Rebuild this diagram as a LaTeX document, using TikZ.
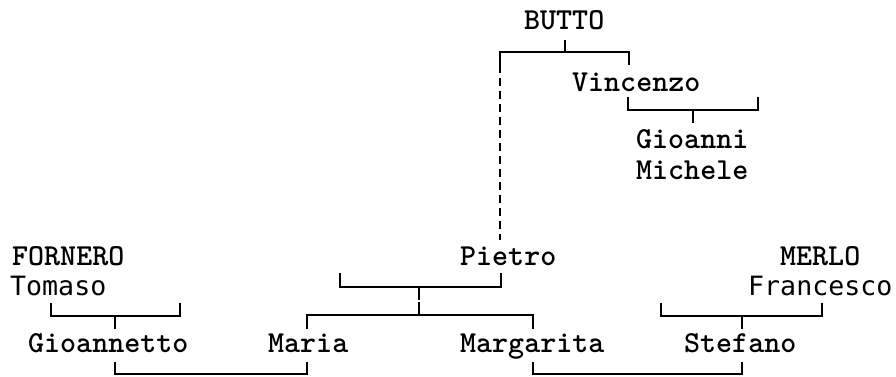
\documentclass[tikz,border=0pt]{standalone}
\usepackage{fontspec}
\newfontfamily\sansmono{DejaVu Sans Mono}
\begin{document}
\begin{tikzpicture}[x=1pt,y=-1pt,
  lbl/.style={anchor=base west, inner sep=0pt, font=\ttfamily\bfseries\fontsize{30.5}{31}\selectfont},
  lbs/.style={anchor=base west, inner sep=0pt, font=\sansmono\fontsize{26.6}{30}\selectfont},
  link/.style={line width=2pt, line cap=butt, line join=miter},
  dlink/.style={line width=2pt, dash pattern=on 8pt off 5pt}]
\useasboundingbox (0,0) rectangle (896,377);
% names
\node[lbl] (butto) at (524,30) {BUTTO};
\node[lbl] (vincenzo) at (572,92) {Vincenzo};
\node[lbl, align=left] (gioanni) at (636,179) {Gioanni\\Michele};
\node[lbl] (fornero) at (12,265) {FORNERO};
\node[lbs] (tomaso) at (10,295) {Tomaso};
\node[lbl] (pietro) at (460,265) {Pietro};
\node[lbl] (merlo) at (780,265) {MERLO};
\node[lbs] (francesco) at (748,295) {Francesco};
\node[lbl] (gioannetto) at (28,352) {Gioannetto};
\node[lbl] (maria) at (268,352) {Maria};
\node[lbl] (margarita) at (460,352) {Margarita};
\node[lbl] (stefano) at (684,352) {Stefano};
% connector points
\coordinate (b1) at (565,40); \coordinate (b2) at (565,52);
\coordinate (bl) at (500,65); \coordinate (blc) at (500,52);
\coordinate (brc) at (629,52); \coordinate (br) at (629,65);
\coordinate (pt) at (500,240);
\coordinate (v1) at (628,97); \coordinate (v2) at (628,110);
\coordinate (v3) at (758,110); \coordinate (v4) at (758,97);
\coordinate (vm) at (693,110); \coordinate (vc) at (693,123);
\coordinate (t1) at (51,303); \coordinate (t2) at (51,316);
\coordinate (t3) at (180,316); \coordinate (t4) at (180,303);
\coordinate (tm) at (115,316); \coordinate (tc) at (115,329);
\coordinate (g1) at (115,362); \coordinate (g2) at (115,374);
\coordinate (g3) at (307,374); \coordinate (g4) at (307,362);
\coordinate (p1) at (340,273); \coordinate (p2) at (340,287);
\coordinate (p3) at (501,287); \coordinate (p4) at (501,273);
\coordinate (pm) at (419,287); \coordinate (pma) at (419,300);
\coordinate (pmb) at (419,302); \coordinate (pmc) at (419,315);
\coordinate (c1) at (307,329); \coordinate (c2) at (307,315);
\coordinate (c3) at (533,315); \coordinate (c4) at (533,329);
\coordinate (m1) at (661,303); \coordinate (m2) at (661,316);
\coordinate (m3) at (822,316); \coordinate (m4) at (822,303);
\coordinate (mm) at (742,316); \coordinate (mc) at (742,329);
\coordinate (s1) at (533,362); \coordinate (s2) at (533,374);
\coordinate (s3) at (742,374); \coordinate (s4) at (742,362);
% connectors
\draw[link] (b1) -- (b2);
\draw[link] (bl) -- (blc) -- (brc) -- (br);
\draw[dlink] (bl) -- (pt);
\draw[link] (v1) -- (v2) -- (v3) -- (v4);
\draw[link] (vm) -- (vc);
\draw[link] (t1) -- (t2) -- (t3) -- (t4);
\draw[link] (tm) -- (tc);
\draw[link] (g1) -- (g2) -- (g3) -- (g4);
\draw[link] (p1) -- (p2) -- (p3) -- (p4);
\draw[link] (pm) -- (pma);
\draw[link] (pmb) -- (pmc);
\draw[link] (c1) -- (c2) -- (c3) -- (c4);
\draw[link] (m1) -- (m2) -- (m3) -- (m4);
\draw[link] (mm) -- (mc);
\draw[link] (s1) -- (s2) -- (s3) -- (s4);
\end{tikzpicture}
\end{document}
